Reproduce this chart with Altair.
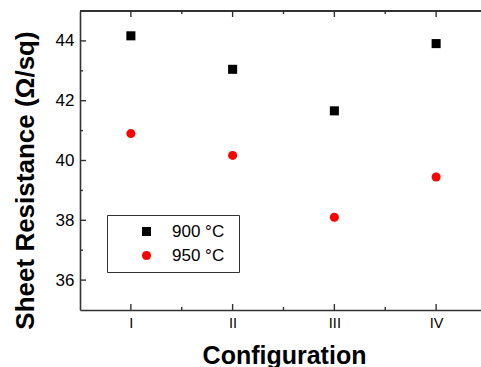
import altair as alt
import pandas as pd

configs = ["I", "II", "III", "IV"]
series = ["900 °C", "950 °C"]
r900 = [44.17, 43.05, 41.66, 43.91]
r950 = [40.90, 40.17, 38.10, 39.45]

y_major = [36, 38, 40, 42, 44]
y_minor = [37, 39, 41, 43]
x_major = [1, 2, 3, 4]
x_minor = [1.5, 2.5, 3.5]

rows = []
for i, c in enumerate(configs):
    rows.append({"pos": i + 1, "config": c, "series": series[0], "value": r900[i]})
    rows.append({"pos": i + 1, "config": c, "series": series[1], "value": r950[i]})
df = pd.DataFrame(rows)

FONT = "Liberation Sans"
FRAME = "#333333"
xscale = alt.Scale(domain=[0.5, 4.5], range=[0, 407], nice=False, zero=False)
yscale = alt.Scale(domain=[35, 45], nice=False, zero=False)

x_axis = alt.Axis(
    values=x_major,
    labelExpr="['I','II','III','IV'][datum.value-1]",
    ticks=False, grid=False, domain=True, domainColor=FRAME, domainWidth=1.6,
    labelFont=FONT, labelFontSize=14.5, labelColor="black", labelPadding=6,
    title="Configuration", titleFont=FONT, titleFontSize=25, titleFontWeight="bold",
    titleColor="black", titleX=204, titleY=53, titleAlign="center",
    titleBaseline="alphabetic")
y_axis = alt.Axis(
    values=y_major, ticks=False, grid=False, domain=True, domainColor=FRAME,
    domainWidth=1.6, labelFont=FONT, labelFontSize=17, labelColor="black",
    labelPadding=6,
    title="Sheet Resistance (Ω/sq)", titleFont=FONT, titleFontSize=26,
    titleFontWeight="bold", titleColor="black", titleAngle=270,
    titleX=-47, titleY=169, titleAlign="center", titleBaseline="alphabetic")

legend = alt.Legend(title="\u00a0", titleOrient="right", titlePadding=7,
                    titleFontSize=1)

points = alt.Chart(df).mark_point(filled=True, size=82, opacity=1).encode(
    x=alt.X("pos:Q", scale=xscale, axis=x_axis),
    y=alt.Y("value:Q", scale=yscale, axis=y_axis),
    color=alt.Color("series:N", scale=alt.Scale(domain=series, range=["#000000", "#ff0000"]),
                    legend=legend),
    shape=alt.Shape("series:N", scale=alt.Scale(domain=series, range=["square", "circle"]),
                    legend=legend),
)

ymaj = pd.DataFrame({"v": y_major})
ymin = pd.DataFrame({"v": y_minor})
xmaj = pd.DataFrame({"p": x_major})
xmin = pd.DataFrame({"p": x_minor})


def yticks(data, x0, off):
    return alt.Chart(data).mark_rule(color=FRAME, strokeWidth=1.4, x2Offset=off).encode(
        y=alt.Y("v:Q", scale=yscale, axis=y_axis),
        x=alt.XDatum(x0, scale=xscale, axis=x_axis),
        x2=alt.X2Datum(x0),
    )


def xticks(data, y0, off):
    return alt.Chart(data).mark_rule(color=FRAME, strokeWidth=1.4, y2Offset=off).encode(
        x=alt.X("p:Q", scale=xscale, axis=x_axis),
        y=alt.YDatum(y0, scale=yscale, axis=y_axis),
        y2=alt.Y2Datum(y0),
    )


frame_top = alt.Chart(ymaj).mark_rule(color=FRAME, strokeWidth=1.6).encode(
    x=alt.XDatum(0.5, scale=xscale, axis=x_axis), x2=alt.X2Datum(4.5),
    y=alt.YDatum(45, scale=yscale, axis=y_axis),
)
frame_right = alt.Chart(ymaj).mark_rule(color=FRAME, strokeWidth=1.6).encode(
    x=alt.XDatum(4.5, scale=xscale, axis=x_axis),
    y=alt.YDatum(35, scale=yscale, axis=y_axis), y2=alt.Y2Datum(45),
)

chart = alt.layer(
    points,
    frame_top, frame_right,
    yticks(ymaj, 0.5, 6), yticks(ymin, 0.5, 3),
    yticks(ymaj, 4.5, -6), yticks(ymin, 4.5, -3),
    xticks(xmaj, 35, -6), xticks(xmin, 35, -3),
    xticks(xmaj, 45, 6), xticks(xmin, 45, 3),
).properties(
    width=401, height=299,
    autosize=alt.AutoSizeParams(type="none"),
    padding={"left": 80, "top": 11, "right": 0, "bottom": 57},
    background="white",
).configure_view(stroke=None).configure_legend(
    orient="none", legendX=27, legendY=204, padding=8, symbolOffset=23,
    labelOffset=17, rowPadding=6, strokeColor=FRAME, fillColor="white",
    labelFont=FONT, labelFontSize=17, labelColor="black", symbolSize=82,
    symbolStrokeWidth=0,
)

chart.save("out.html", embed_options={"renderer": "svg", "actions": False})
